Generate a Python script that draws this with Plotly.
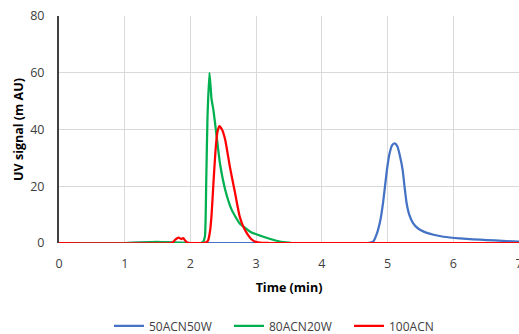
import plotly.graph_objects as go

# Chromatograms: retention time (min) vs UV signal (mAU)
t_50acn50w = [0, 1.0, 1.2, 1.4, 1.5, 1.6, 1.8, 2.0, 3.0, 4.0, 4.7, 4.78, 4.84, 4.89, 4.93, 4.96,
              4.99, 5.03, 5.07, 5.11, 5.15, 5.19, 5.23, 5.26, 5.29, 5.33, 5.39, 5.46, 5.55,
              5.7, 5.85, 6.1, 6.3, 6.51, 6.75, 7.0]
uv_50acn50w = [0, 0, 0.1, 0.25, 0.3, 0.25, 0.05, 0, 0, 0, 0, 0.5, 3.5, 8.0, 14.0, 19.8,
               25.7, 31.5, 34.5, 35.1, 34.0, 30.5, 25.7, 19.5, 14.0, 10.0, 6.9, 5.2, 4.0,
               2.9, 2.2, 1.6, 1.3, 1.05, 0.75, 0.45]

t_80acn20w = [0, 1.0, 1.2, 1.4, 1.5, 1.6, 1.8, 2.0, 2.15, 2.19, 2.22, 2.24, 2.26, 2.29, 2.32,
              2.35, 2.40, 2.45, 2.53, 2.63, 2.75, 2.91, 3.11, 3.31, 3.45, 3.55, 4.0, 7.0]
uv_80acn20w = [0, 0, 0.15, 0.35, 0.4, 0.3, 0.1, 0, 0, 0.3, 2.2, 21.0, 44.5, 60.0, 51.0,
               46.8, 37.4, 28.0, 18.7, 11.6, 6.9, 4.0, 2.2, 0.8, 0.2, 0, 0, 0]

t_100acn = [0, 1.7, 1.73, 1.77, 1.82, 1.86, 1.89, 1.92, 1.95, 2.0, 2.2, 2.25, 2.27, 2.30,
            2.32, 2.35, 2.38, 2.41, 2.44, 2.48, 2.53, 2.60, 2.68, 2.75, 2.81, 2.86, 2.92,
            2.98, 3.05, 3.2, 7.0]
uv_100acn = [0, 0, 0.2, 1.2, 1.9, 1.4, 1.7, 0.9, 0.2, 0, 0, 0.4, 1.0, 4.5, 9.3, 21.0, 32.0,
             39.0, 41.2, 40.0, 36.3, 26.9, 17.5, 9.3, 5.5, 3.4, 1.5, 0.5, 0.1, 0, 0]

x_ticks = [0, 1, 2, 3, 4, 5, 6, 7]
y_ticks = [0, 20, 40, 60, 80]

font_family = "Open Sans, Liberation Sans, sans-serif"
text_color = "#404040"

fig = go.Figure()
series = [
    ("50ACN50W", t_50acn50w, uv_50acn50w, "#4472C4"),
    ("80ACN20W", t_80acn20w, uv_80acn20w, "#00B050"),
    ("100ACN", t_100acn, uv_100acn, "#FF0000"),
]
for name, t, uv, color in series:
    fig.add_trace(go.Scatter(
        x=t, y=uv, name=name, mode="lines", cliponaxis=True,
        line=dict(color=color, width=2.25, shape="spline", smoothing=0.5),
    ))

fig.update_layout(
    width=519, height=334,
    margin=dict(l=59, r=0, t=16, b=91, autoexpand=False),
    paper_bgcolor="white", plot_bgcolor="white",
    font=dict(family=font_family, color=text_color, size=12),
    showlegend=True,
    legend=dict(
        orientation="h", x=0.5, xanchor="center", y=-0.365, yanchor="middle",
        font=dict(size=12, color=text_color), itemwidth=30,
        entrywidth=75, entrywidthmode="pixels",
    ),
    xaxis=dict(
        range=[0, 7.0001], tickvals=x_ticks, showgrid=True, gridcolor="#D9D9D9", gridwidth=1,
        zeroline=False, showline=False, ticks="", ticklabelstandoff=11,
        ticklabeloverflow="allow",
        tickfont=dict(size=12.5, color=text_color),
        title=dict(text="<b>Time (min)</b>", font=dict(size=12.5, color="#000000"), standoff=12),
    ),
    yaxis=dict(
        range=[0, 80], tickvals=y_ticks, showgrid=True, gridcolor="#D9D9D9", gridwidth=1,
        zeroline=False, showline=True, linecolor="#404040", linewidth=2, ticks="",
        ticklabelstandoff=10, tickfont=dict(size=12.5, color=text_color),
        title=dict(text="<b>UV signal (m AU)</b>", font=dict(size=12.5, color="#000000"), standoff=4),
    ),
)

fig.write_html("out.html")
